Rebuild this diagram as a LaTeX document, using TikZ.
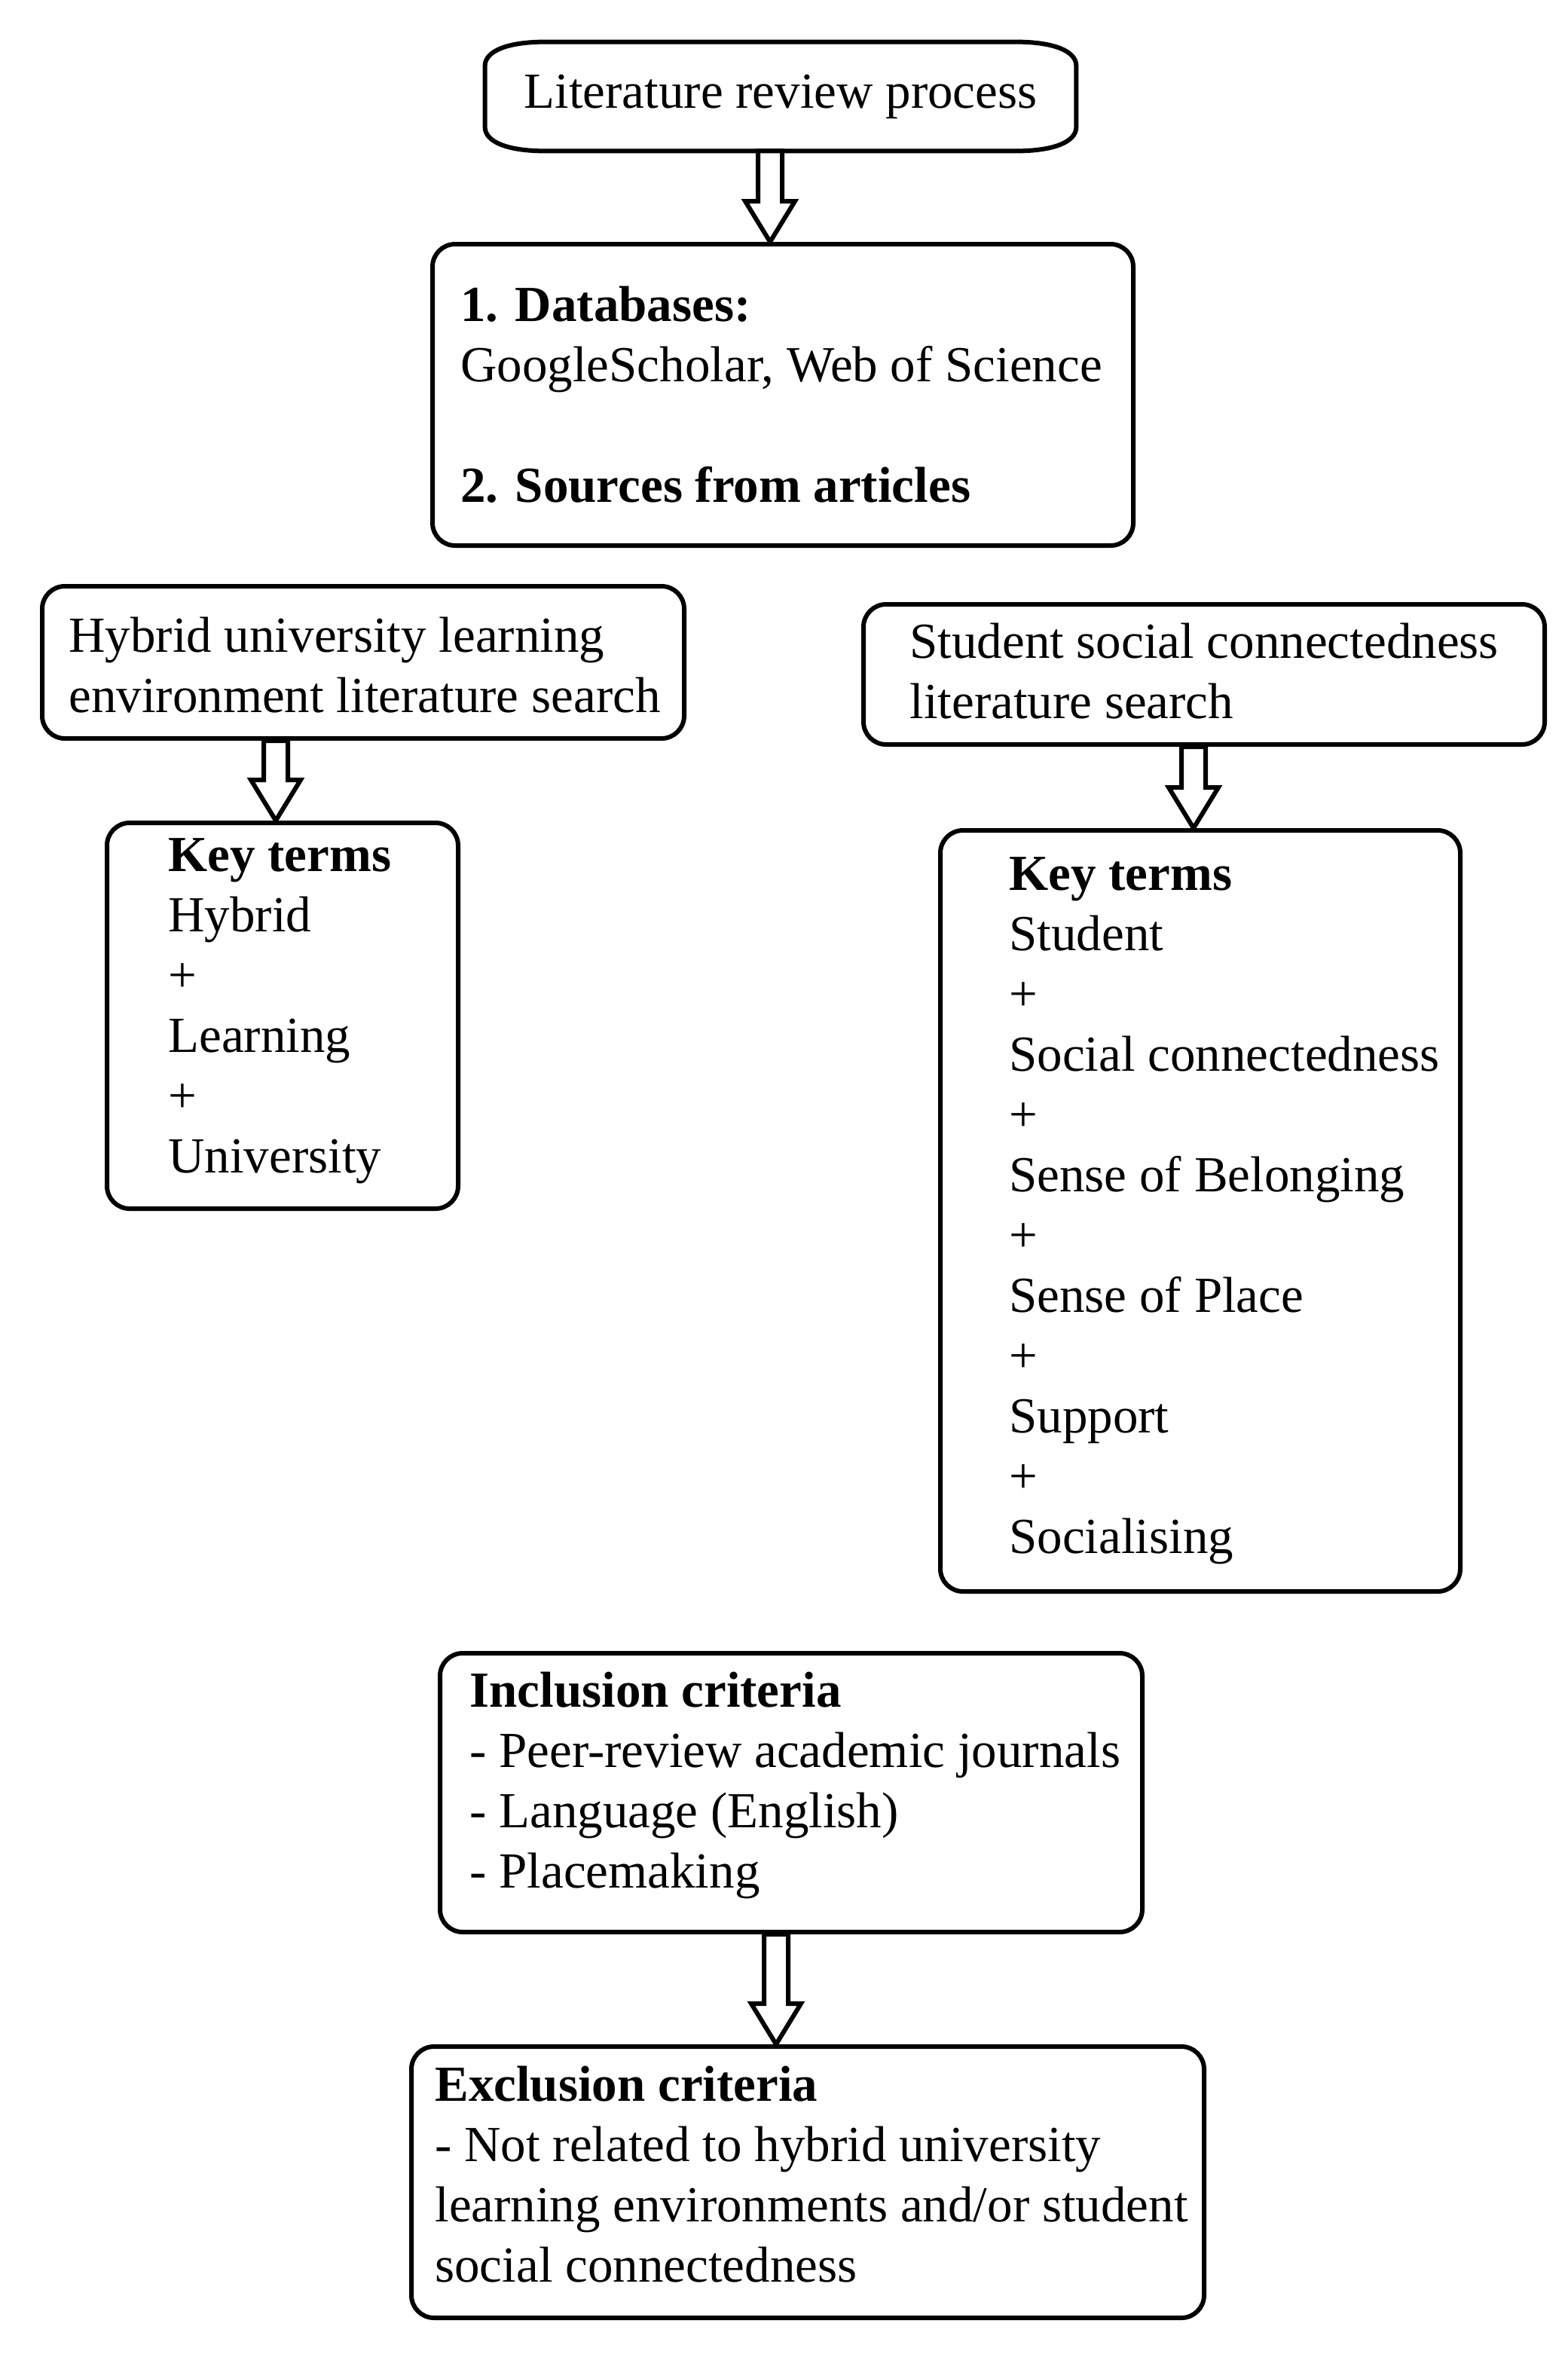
\documentclass[tikz,border=0pt]{standalone}
\usepackage{fontspec}
\setmainfont{Liberation Serif}
\usetikzlibrary{calc}
\tikzset{
  boxline/.style={line width=3pt, draw=black},
  rbox/.style={boxline, rectangle, rounded corners=15pt, inner sep=0pt},
  txt/.style={font=\fontsize{33.5}{40}\selectfont, align=left, inner sep=0pt, anchor=west},
  blockarr/.style={line width=3pt, draw=black, fill=white, line join=miter},
}
\newcommand{\blockarrow}[3]{%
  \draw[blockarr] let \p1=(#2.south), \p2=(#3.north) in
  (#1pt-8pt,\y1) -- (#1pt+8pt,\y1) -- (#1pt+8pt,\y2+27pt) -- (#1pt+16.5pt,\y2+27pt)
  -- (#1pt,\y2) -- (#1pt-16.5pt,\y2+27pt) -- (#1pt-8pt,\y2+27pt) -- cycle;}
\begin{document}
\begin{tikzpicture}[x=1pt,y=-1pt]
\fill[white] (0,0) rectangle (1040.5,1564);
\useasboundingbox (0,0) rectangle (1040.5,1564);

% top box
\node[minimum width=392pt, minimum height=72pt, inner sep=0pt,
      font=\fontsize{33.5}{40}\selectfont] (top) at (518,64) {Literature review process};
\draw[boxline] ([xshift=40pt]top.north west) -- ([xshift=-40pt]top.north east)
  .. controls ([xshift=-15pt]top.north east) and ([yshift=-6pt]top.north east) .. ([yshift=-16pt]top.north east)
  -- ([yshift=16pt]top.south east)
  .. controls ([yshift=6pt]top.south east) and ([xshift=-15pt]top.south east) .. ([xshift=-40pt]top.south east)
  -- ([xshift=40pt]top.south west)
  .. controls ([xshift=15pt]top.south west) and ([yshift=6pt]top.south west) .. ([yshift=16pt]top.south west)
  -- ([yshift=-16pt]top.north west)
  .. controls ([yshift=-6pt]top.north west) and ([xshift=15pt]top.north west) .. ([xshift=40pt]top.north west)
  -- cycle;

% boxes
\node[rbox, minimum width=465pt, minimum height=200pt] (db) at (519.5,262) {};
\node[rbox, minimum width=426pt, minimum height=101pt] (hyb) at (241,439.5) {};
\node[rbox, minimum width=233pt, minimum height=256pt] (kl) at (187.5,674) {};
\node[rbox, minimum width=452pt, minimum height=93pt] (stu) at (799,447.5) {};
\node[rbox, minimum width=345pt, minimum height=505pt] (kr) at (796.5,803.5) {};
\node[rbox, minimum width=466pt, minimum height=185pt] (inc) at (525,1189.5) {};
\node[rbox, minimum width=526pt, minimum height=180pt] (exc) at (536,1448) {};

% texts
\node[txt] (dbt) at ([xshift=20pt]db.west) {\textbf{1. Databases:}\\GoogleScholar, Web of Science\\[40pt]\textbf{2. Sources from articles}};
\node[txt] (hybt) at ([xshift=19pt,yshift=-2pt]hyb.west) {Hybrid university learning\\environment literature search};
\node[txt] (klt) at ([xshift=42pt,yshift=3pt]kl.west) {\textbf{Key terms}\\Hybrid\\+\\Learning\\+\\University};
\node[txt] (stut) at ([xshift=32pt,yshift=2pt]stu.west) {Student social connectedness\\literature search};
\node[txt] (krt) at ([xshift=47pt]kr.west) {\textbf{Key terms}\\Student\\+\\Social connectedness\\+\\Sense of Belonging\\+\\Sense of Place\\+\\Support\\+\\Socialising};
\node[txt] (inct) at ([xshift=21pt,yshift=5pt]inc.west) {\textbf{Inclusion criteria}\\- Peer-review academic journals\\- Language (English)\\- Placemaking};
\node[txt] (exct) at ([xshift=17pt,yshift=5pt]exc.west) {\textbf{Exclusion criteria}\\- Not related to hybrid university\\learning environments and/or student\\social connectedness};

% block arrows
\blockarrow{511}{top}{db}
\blockarrow{183}{hyb}{kl}
\blockarrow{792}{stu}{kr}
\blockarrow{515}{inc}{exc}
\end{tikzpicture}
\end{document}
